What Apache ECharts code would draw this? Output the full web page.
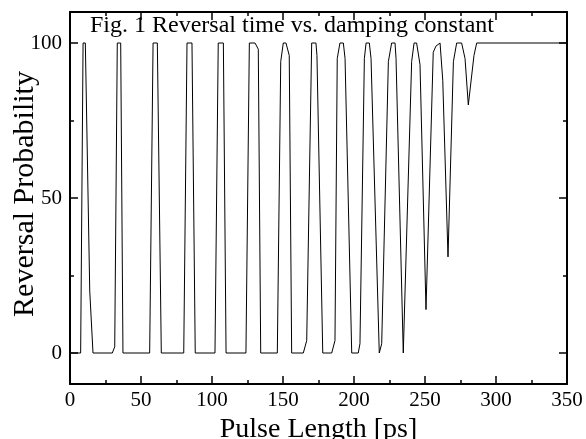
<!DOCTYPE html>
<html><head><meta charset="utf-8">
<script src="https://cdn.jsdelivr.net/npm/echarts@6/dist/echarts.min.js"></script>
<style>html,body{margin:0;padding:0;background:#fff}#c{width:586px;height:439px}</style>
</head><body><div id="c"></div>
<script>
const pulseLength = [0, 7.5, 9.2, 10.8, 13.9, 16.2,
 29.8, 31.5, 33.3, 35.7, 37.3,
 56.1, 58.5, 61.5, 64.3,
 80.1, 82.4, 85.9, 88.2,
 102.1, 104.4, 108.0, 109.9,
 123.9, 126.3, 130.3, 132.6, 134.3,
 146.0, 148.4, 150.2, 152.1, 154.4, 156.1,
 164.3, 166.7, 170.2, 173.2, 173.9, 178.0,
 184.3, 186.6, 188.2, 190.1, 192.5, 193.7, 198.4,
 203.0, 204.2, 207.3, 208.5, 210.8, 212.0, 217.8,
 219.5, 224.2, 226.5, 228.9, 229.6, 234.7,
 240.6, 242.3, 244.1, 246.5, 250.7,
 255.8, 257.7, 260.6, 262.5, 266.2,
 270.0, 272.3, 275.8, 278.2, 280.5,
 284.5, 286.4, 350];
const reversalProb = [0, 0, 100, 100, 20, 0,
 0, 2, 100, 100, 0,
 0, 100, 100, 0,
 0, 100, 100, 0,
 0, 100, 100, 0,
 0, 100, 100, 98, 0,
 0, 94, 100, 100, 96, 0,
 0, 4, 100, 100, 96, 0,
 0, 4, 95, 100, 100, 95, 0,
 0, 3, 95, 100, 100, 95, 0,
 3, 94, 100, 100, 95, 0,
 94, 100, 100, 93, 14,
 97, 99, 100, 88, 31,
 94, 100, 100, 95, 80,
 96, 100, 100];
const yTickValues = [0, 50, 100];
const yMinorTickValues = [25, 75];
const titleText = 'Fig. 1 Reversal time vs. damping constant';
const xName = 'Pulse Length [ps]';
const yName = 'Reversal Probability';

const FONT = "'Liberation Serif', 'Times New Roman', serif";
const pts = pulseLength.map((x, i) => [x, reversalProb[i]]);
const lineS = {color: '#000', width: 2};
const chart = echarts.init(document.getElementById('c'), null, {renderer: 'canvas'});

function xAx(pos, labels) {
  return {
    type: 'value', position: pos, min: 0, max: 350, interval: 50,
    axisLine: {show: true, onZero: false, lineStyle: lineS},
    axisTick: {show: true, inside: true, length: 8, lineStyle: {color: '#000', width: 1.5}},
    minorTick: {show: true, splitNumber: 2, length: 4, lineStyle: {color: '#000', width: 1.5}},
    axisLabel: {show: labels, color: '#000', fontFamily: FONT, fontSize: 21, margin: 6},
    splitLine: {show: false}, minorSplitLine: {show: false},
    name: labels ? xName : '', nameLocation: 'middle', nameGap: 32,
    nameTextStyle: {color: '#000', fontFamily: FONT, fontSize: 28}
  };
}
function yAx(pos, vals, len, labels, line) {
  return {
    type: 'value', position: pos, min: -10, max: 110,
    axisLine: {show: line, onZero: false, lineStyle: lineS},
    axisTick: {show: true, inside: true, length: len, customValues: vals, lineStyle: {color: '#000', width: 1.5}},
    axisLabel: {show: labels, customValues: vals, color: '#000', fontFamily: FONT, fontSize: 21, margin: 8},
    splitLine: {show: false},
    name: labels ? yName : '', nameLocation: 'middle', nameGap: 30, nameRotate: 90,
    nameMoveOverlap: false,
    nameTextStyle: {color: '#000', fontFamily: FONT, fontSize: 30, padding: [0, 0, 0, 8]}
  };
}

chart.setOption({
  animation: false,
  backgroundColor: '#fff',
  title: {text: titleText, left: 90, top: 14, padding: 0,
    textStyle: {color: '#000', fontFamily: FONT, fontSize: 24, fontWeight: 'normal'}},
  grid: {left: 70, right: 19, top: 12, bottom: 55, containLabel: false, outerBoundsMode: 'none'},
  xAxis: [xAx('bottom', true), xAx('top', false)],
  yAxis: [
    yAx('left', yTickValues, 8, true, true),
    yAx('right', yTickValues, 8, false, true),
    yAx('left', yMinorTickValues, 4, false, false),
    yAx('right', yMinorTickValues, 4, false, false)
  ],
  series: [{
    type: 'line', data: pts, xAxisIndex: 0, yAxisIndex: 0,
    showSymbol: false, symbol: 'none', smooth: false,
    lineStyle: {color: '#000', width: 1}
  }]
});
</script>
</body></html>
